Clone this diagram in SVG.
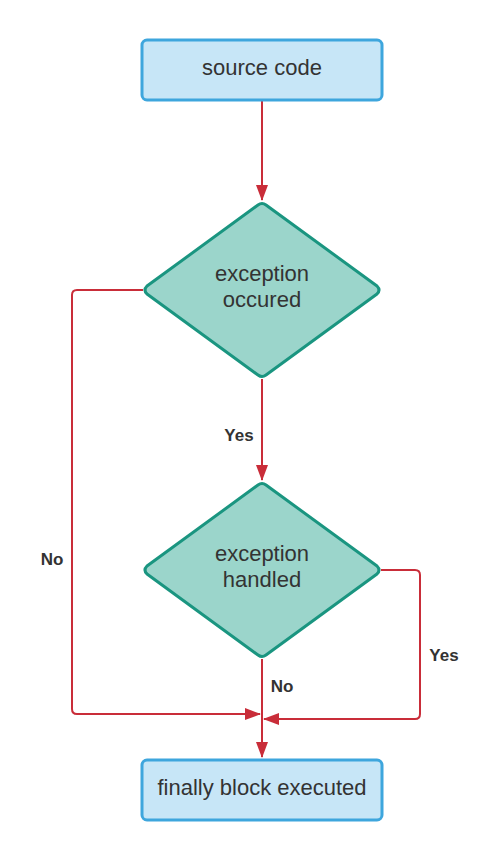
<svg xmlns="http://www.w3.org/2000/svg" width="499" height="860" viewBox="0 0 499 860">
<style>
.box{fill:#c7e6f7;stroke:#3ea6dd;stroke-width:3}
.dia{fill:#9bd5cb;stroke:#1a9580;stroke-width:3;stroke-linejoin:round}
.t{font-family:"Liberation Sans",Arial,sans-serif;font-size:22px;fill:#333;text-anchor:middle}
.l{font-family:"Liberation Sans",Arial,sans-serif;font-size:17px;font-weight:bold;fill:#333;text-anchor:middle}
.c{fill:none;stroke:#c92d39;stroke-width:2;stroke-linejoin:round}
</style>
<defs>
<marker id="ah" markerWidth="16" markerHeight="12" refX="15" refY="6" orient="auto" markerUnits="userSpaceOnUse">
<path d="M0,0 L16,6 L0,12 Z" fill="#c92d39"/>
</marker>
</defs>
<rect width="499" height="860" fill="#fff"/>
<g id="connectors">
<path class="c" d="M262,101 V200" marker-end="url(#ah)"/>
<path class="c" d="M262,379 V480" marker-end="url(#ah)"/>
<path class="c" d="M143,290 H77 Q72,290 72,295 V709 Q72,714 77,714 H260" marker-end="url(#ah)"/>
<path class="c" d="M381,570 H415 Q420,570 420,575 V714 Q420,719 415,719 H264" marker-end="url(#ah)"/>
<path class="c" d="M262,659 V757" marker-end="url(#ah)"/>
<text class="l" x="239" y="441">Yes</text>
<text class="l" x="52" y="565">No</text>
<text class="l" x="444" y="661">Yes</text>
<text class="l" x="282" y="692">No</text>
</g>
<g id="source">
<rect class="box" x="142" y="40" width="240" height="60" rx="5"/>
<text class="t" x="262" y="75">source code</text>
</g>
<g id="occured">
<path class="dia" d="M258,205 Q262,202 266,205 L377,286 Q381,290 377,294 L266,375 Q262,378 258,375 L147,294 Q143,290 147,286 Z"/>
<text class="t" x="262" y="281">exception</text>
<text class="t" x="262" y="307">occured</text>
</g>
<g id="handled">
<path class="dia" d="M258,485 Q262,482 266,485 L377,566 Q381,570 377,574 L266,655 Q262,658 258,655 L147,574 Q143,570 147,566 Z"/>
<text class="t" x="262" y="561">exception</text>
<text class="t" x="262" y="587">handled</text>
</g>
<g id="finally">
<rect class="box" x="142" y="760" width="240" height="60" rx="5"/>
<text class="t" x="262" y="795">finally block executed</text>
</g>
</svg>
